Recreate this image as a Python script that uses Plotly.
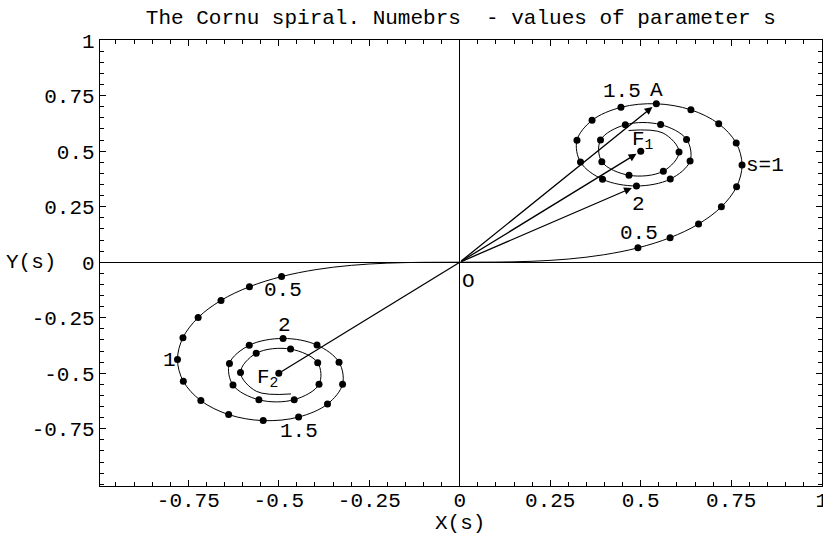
import plotly.graph_objects as go

# Parameter s (0 .. 3.2, step 0.1) and tabulated Fresnel values read for the Cornu spiral
s_vals = [0.0, 0.1, 0.2, 0.3, 0.4, 0.5, 0.6, 0.7, 0.8, 0.9, 1.0, 1.1, 1.2, 1.3, 1.4, 1.5,
          1.6, 1.7, 1.8, 1.9, 2.0, 2.1, 2.2, 2.3, 2.4, 2.5, 2.6, 2.7, 2.8, 2.9, 3.0, 3.1, 3.2]
X_vals = [0.0, 0.0999, 0.1999, 0.2994, 0.3975, 0.4923, 0.5811, 0.6597, 0.7228, 0.7648,
          0.7799, 0.7638, 0.7154, 0.6386, 0.5431, 0.4453, 0.3655, 0.3238, 0.3336, 0.3944,
          0.4882, 0.5816, 0.6363, 0.6266, 0.5550, 0.4574, 0.3889, 0.3925, 0.4675, 0.5624,
          0.6058, 0.5616, 0.4663]
Y_vals = [0.0, 0.0005, 0.0042, 0.0141, 0.0334, 0.0647, 0.1105, 0.1721, 0.2493, 0.3398,
          0.4383, 0.5365, 0.6234, 0.6863, 0.7135, 0.6975, 0.6389, 0.5492, 0.4509, 0.3733,
          0.3434, 0.3743, 0.4557, 0.5532, 0.6197, 0.6192, 0.5500, 0.4529, 0.3915, 0.4101,
          0.4963, 0.5818, 0.5933]

# dots are drawn for s from 0.5 to 3.0
dot_min, dot_max = 0.5, 3.0

# foci and arrow targets
focus_x = [0.5, -0.5]
focus_y = [0.5, -0.5]
arrow_s = [1.4, 2.0]  # point A (s=1.4) and s=2

x_ticks = [-0.75, -0.5, -0.25, 0, 0.25, 0.5, 0.75, 1]
x_tick_text = ["-0.75", "-0.5", "-0.25", "0", "0.25", "0.5", "0.75", "1"]
y_ticks = [-0.75, -0.5, -0.25, 0, 0.25, 0.5, 0.75, 1]
y_tick_text = ["-0.75", "-0.5", "-0.25", "0", "0.25", "0.5", "0.75", "1"]

FONT = "Courier New, Liberation Mono, monospace"
FS = 21

# full curve from -3.2 to 3.2 (odd symmetry)
curve_x = [-v for v in X_vals[::-1]] + X_vals[1:]
curve_y = [-v for v in Y_vals[::-1]] + Y_vals[1:]

dots_x, dots_y = [], []
for s, xv, yv in zip(s_vals, X_vals, Y_vals):
    if dot_min - 1e-9 <= s <= dot_max + 1e-9:
        dots_x += [xv, -xv]
        dots_y += [yv, -yv]

fig = go.Figure()
fig.add_trace(go.Scatter(x=curve_x, y=curve_y, mode="lines",
                         line=dict(color="black", width=1, shape="spline", smoothing=1.0),
                         hoverinfo="skip"))
fig.add_trace(go.Scatter(x=[0, focus_x[1]], y=[0, focus_y[1]], mode="lines",
                         line=dict(color="black", width=1.3), hoverinfo="skip"))
fig.add_trace(go.Scatter(x=dots_x + focus_x, y=dots_y + focus_y, mode="markers",
                         marker=dict(color="black", size=7), hoverinfo="skip"))

annotations = []
# arrows from origin
targets = [(X_vals[s_vals.index(s)], Y_vals[s_vals.index(s)]) for s in arrow_s]
targets.append((focus_x[0], focus_y[0]))
for tx, ty in targets:
    annotations.append(dict(x=tx, y=ty, ax=0, ay=0, xref="x", yref="y", axref="x", ayref="y",
                            showarrow=True, arrowhead=2, arrowsize=1.2, arrowwidth=1.3,
                            arrowcolor="black", standoff=5, text=""))

labels = [
    ("1.5", 0.447, 0.767), ("A", 0.543, 0.772), ("F<sub>1</sub>", 0.505, 0.548),
    ("s=1", 0.843, 0.437), ("2", 0.494, 0.261), ("0.5", 0.494, 0.131),
    ("O", 0.025, -0.085),
    ("0.5", -0.488, -0.129), ("2", -0.483, -0.284), ("1", -0.803, -0.441),
    ("F<sub>2</sub>", -0.532, -0.525), ("1.5", -0.444, -0.764),
]
for t, lx, ly in labels:
    annotations.append(dict(x=lx, y=ly, xref="x", yref="y", text=t, showarrow=False,
                            xanchor="center", yanchor="middle",
                            font=dict(family=FONT, size=FS, color="black")))

annotations.append(dict(x=-0.0956, y=0.502, xref="paper", yref="paper", text="Y(s)",
                        showarrow=False, xanchor="center", yanchor="middle",
                        font=dict(family=FONT, size=FS, color="black")))
annotations.append(dict(x=0.4986, y=-0.085, xref="paper", yref="paper", text="X(s)",
                        showarrow=False, xanchor="center", yanchor="middle",
                        font=dict(family=FONT, size=FS, color="black")))

axis_common = dict(
    showgrid=False, showline=True, linecolor="black", linewidth=1.3, mirror="ticks",
    ticks="inside", ticklen=6, tickwidth=1, tickcolor="black",
    zeroline=True, zerolinecolor="black", zerolinewidth=1.3,
    tickfont=dict(family=FONT, size=FS, color="black"),
    ticklabeloverflow="allow", automargin=False,
    minor=dict(ticks="inside", ticklen=3.5, tickwidth=1, tickcolor="black",
               tick0=0, dtick=0.05, showgrid=False),
)

fig.update_layout(
    width=823, height=540,
    margin=dict(l=100, r=1, t=40, b=54, autoexpand=False),
    paper_bgcolor="white", plot_bgcolor="white",
    showlegend=False,
    title=dict(text="The Cornu spiral. Numebrs  - values of parameter s",
               x=0.56, xanchor="center", y=1 - 17 / 540, yanchor="middle",
               font=dict(family=FONT, size=FS, color="black")),
    xaxis=dict(range=[-0.994, 1.0008], tickvals=x_ticks, ticktext=x_tick_text,
               ticklabelstandoff=-5, **axis_common),
    yaxis=dict(range=[-1.008, 1.0008], tickvals=y_ticks, ticktext=y_tick_text,
               **axis_common),
    annotations=annotations,
)

fig.write_html("out.html")
